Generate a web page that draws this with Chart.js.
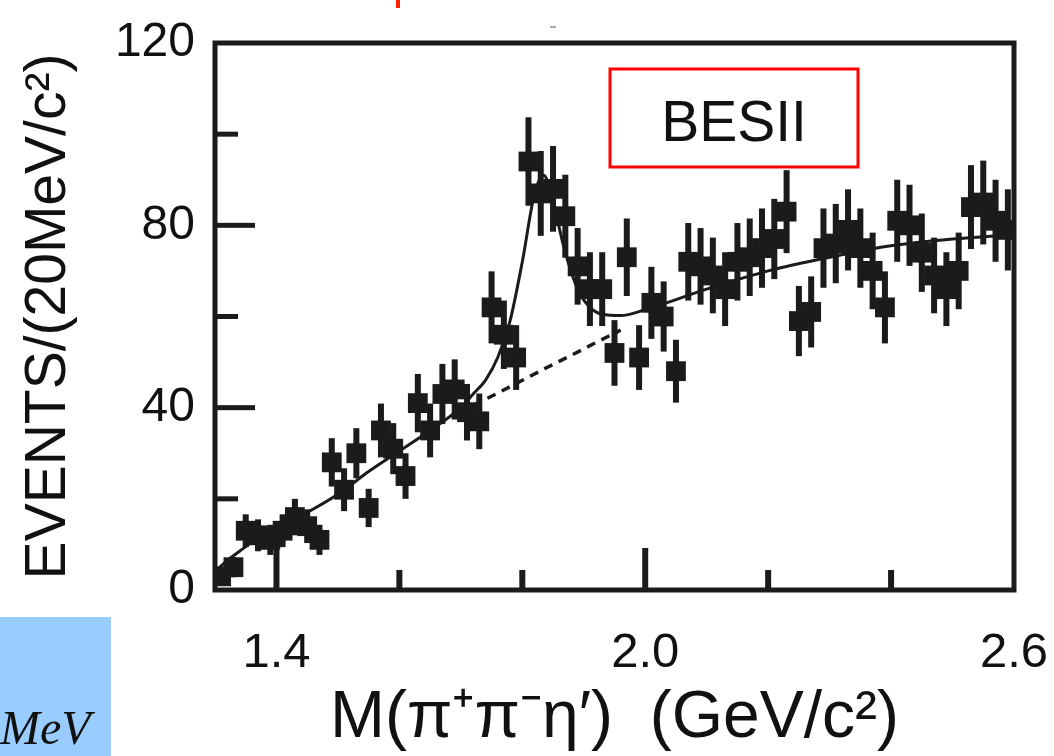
<!DOCTYPE html>
<html><head><meta charset="utf-8">
<script src="https://cdn.jsdelivr.net/npm/chart.js@4/dist/chart.umd.min.js"></script>
<style>html,body{margin:0;padding:0;background:#fff;}#wrap{width:1054px;height:756px;position:relative;}</style>
</head><body><div id="wrap"><canvas id="c" width="1054" height="756"></canvas></div>
<script>
// ---- data ----
const massBins = [1.31,1.33,1.35,1.37,1.39,1.41,1.43,1.45,1.47,1.49,
 1.51,1.53,1.55,1.57,1.59,1.61,1.63,1.65,1.67,1.69,
 1.71,1.73,1.75,1.77,1.79,1.81,1.83,1.85,1.87,1.89,
 1.91,1.93,1.95,1.97,1.99,2.01,2.03,2.05,2.07,2.09,
 2.11,2.13,2.15,2.17,2.19,2.21,2.23,2.25,2.27,2.29,
 2.31,2.33,2.35,2.37,2.39,2.41,2.43,2.45,2.47,2.49,
 2.51,2.53,2.55,2.57,2.59];
const events = [3,5,13,12,11,13,16,14,11,28,
 22,30,18,35,31,25,41,35,43,44,
 39,37,62,56,51,94,87,88,82,71,
 66,66,52,73,51,63,60,48,72,71,
 69,66,72,73,75,77,83,59,61,75,
 76,79,75,70,62,81,80,74,69,66,
 70,84,85,81,79];
const errors = [1.7,2.2,3.6,3.5,3.3,3.6,4.0,3.7,3.3,5.3,
 4.7,5.5,4.2,5.9,5.6,5.0,6.4,5.9,6.6,6.6,
 6.2,6.1,7.9,7.5,7.1,9.7,9.3,9.4,9.1,8.4,
 8.1,8.1,7.2,8.5,7.1,7.9,7.7,6.9,8.5,8.4,
 8.3,8.1,8.5,8.5,8.7,8.8,9.1,7.7,7.8,8.7,
 8.7,8.9,8.7,8.4,7.9,9.0,8.9,8.6,8.3,8.1,
 8.4,9.2,9.2,9.0,8.9];
const fitMass  = [1.30,1.32,1.34,1.36,1.38,1.40,1.45,1.50,1.55,1.60,1.65,1.70,1.72,1.74,1.76,1.78,1.80,1.82,1.835,1.85,1.87,1.89,1.91,1.93,1.96,2.00,2.10,2.20,2.30,2.40,2.50,2.60];
const fitTotal = [4,6.5,8.5,10.5,12,13.5,17,21,26,30.5,35,40,43,46,51,59,72,87,91,85,74,66,62,60.5,60.2,61.5,66,70,73,75.5,77,78];
const bgMass   = [1.72,1.76,1.80,1.84,1.88,1.92,1.96];
const bgValues = [40.5,43.2,46,48.8,51.5,54.3,57];
const xTickLabels = [1.4,2.0,2.6];
const xMinorTicks = [1.6,1.8,2.2,2.4];
const yTickLabels = [0,40,80,120];
const yMinorTicks = [20,60,100];

const FONT = '"Liberation Sans", Arial, Helvetica, sans-serif';
const INK = '#1c1a1a';

const decor = {
  id: 'decor',
  beforeDraw(chart) {
    const ctx = chart.ctx;
    ctx.save();
    ctx.fillStyle = '#99ccff';
    ctx.fillRect(0, 617, 111, 139);
    ctx.fillStyle = '#111';
    ctx.font = 'italic 48px "Liberation Serif", "Times New Roman", serif';
    ctx.textBaseline = 'alphabetic';
    ctx.textAlign = 'left';
    ctx.fillText('MeV', 0, 744);
    ctx.fillStyle = '#ff2200';
    ctx.fillRect(396, 0, 4, 8);
    ctx.fillStyle = '#aaaaaa';
    ctx.fillRect(550, 26, 6, 2);
    ctx.restore();
  },
  beforeDatasetsDraw(chart) {
    const {ctx, chartArea: a, scales: {x, y}} = chart;
    ctx.save();
    ctx.beginPath(); ctx.rect(a.left, a.top, a.right - a.left, a.bottom - a.top); ctx.clip();
    ctx.fillStyle = INK;
    for (let i = 0; i < massBins.length; i++) {
      const px = x.getPixelForValue(massBins[i]);
      const t = y.getPixelForValue(events[i] + errors[i]);
      const b = y.getPixelForValue(Math.max(0, events[i] - errors[i]));
      ctx.fillRect(px - 3, t, 6, b - t);
    }
    ctx.restore();
  },
  afterDatasetsDraw(chart) {
    const {ctx, chartArea: a, scales: {x, y}} = chart;
    ctx.save();
    ctx.fillStyle = INK;
    xTickLabels.forEach(v => { const p = x.getPixelForValue(v); if (p > a.left + 4 && p < a.right - 4) ctx.fillRect(p - 3, a.bottom - 42, 6, 42); });
    xMinorTicks.forEach(v => { const p = x.getPixelForValue(v); ctx.fillRect(p - 3, a.bottom - 20, 6, 20); });
    yTickLabels.forEach(v => { const p = y.getPixelForValue(v); if (p > a.top + 4 && p < a.bottom - 4) ctx.fillRect(a.left, p - 2.5, 40, 5); });
    yMinorTicks.forEach(v => { const p = y.getPixelForValue(v); ctx.fillRect(a.left, p - 2.5, 23, 5); });
    ctx.strokeStyle = INK;
    ctx.lineWidth = 5;
    ctx.strokeRect(a.left, a.top, a.right - a.left, a.bottom - a.top);
    ctx.strokeStyle = '#ff0000';
    ctx.lineWidth = 3;
    ctx.strokeRect(610, 69, 248, 98);
    ctx.fillStyle = '#111';
    ctx.font = '57px ' + FONT;
    ctx.textAlign = 'center';
    ctx.textBaseline = 'alphabetic';
    ctx.fillText('BESII', 734, 141);
    ctx.restore();
  }
};

new Chart(document.getElementById('c'), {
  type: 'scatter',
  data: {
    datasets: [
      {
        label: 'Data',
        data: massBins.map((m, i) => ({x: m, y: events[i]})),
        pointStyle: 'rect',
        pointRadius: 14,
        backgroundColor: INK,
        borderWidth: 0,
        order: 0
      },
      {
        label: 'Fit',
        data: fitMass.map((m, i) => ({x: m, y: fitTotal[i]})),
        showLine: true,
        pointRadius: 0,
        borderColor: INK,
        borderWidth: 3,
        cubicInterpolationMode: 'monotone',
        order: 1
      },
      {
        label: 'Background',
        data: bgMass.map((m, i) => ({x: m, y: bgValues[i]})),
        showLine: true,
        pointRadius: 0,
        borderColor: INK,
        borderWidth: 3.5,
        borderDash: [9, 7],
        order: 2
      }
    ]
  },
  options: {
    responsive: false,
    animation: false,
    events: [],
    layout: {padding: {top: 43, right: 40, left: 0, bottom: 0}},
    plugins: {legend: {display: false}, tooltip: {enabled: false}},
    scales: {
      x: {
        type: 'linear', min: 1.3, max: 2.6,
        afterBuildTicks: s => { s.ticks = xTickLabels.map(v => ({value: v})); },
        afterFit: s => { s.height = 166; s.paddingLeft = 0; s.paddingRight = 0; },
        grid: {display: false, drawTicks: false},
        border: {display: false},
        ticks: {
          callback: v => Number(v).toFixed(1),
          font: {family: FONT, size: 49}, color: '#111', padding: 34,
          maxRotation: 0, autoSkip: false
        },
        title: {
          display: true, text: 'M(π⁺π⁻η′)  (GeV/c²)',
          font: {family: FONT, size: 66, lineHeight: 1}, color: '#111',
          padding: {top: 0, bottom: 4}
        }
      },
      y: {
        type: 'linear', min: 0, max: 120,
        afterBuildTicks: s => { s.ticks = yTickLabels.map(v => ({value: v})); },
        afterFit: s => { s.width = 215; s.paddingTop = 0; s.paddingBottom = 0; },
        grid: {display: false, drawTicks: false},
        border: {display: false},
        ticks: {font: {family: FONT, size: 48}, color: '#111', padding: 20},
        title: {
          display: true, text: 'EVENTS/(20MeV/c²)',
          font: {family: FONT, size: 57, lineHeight: 1}, color: '#111',
          padding: {top: 21, bottom: 0}
        }
      }
    }
  },
  plugins: [decor]
});
</script></body></html>
